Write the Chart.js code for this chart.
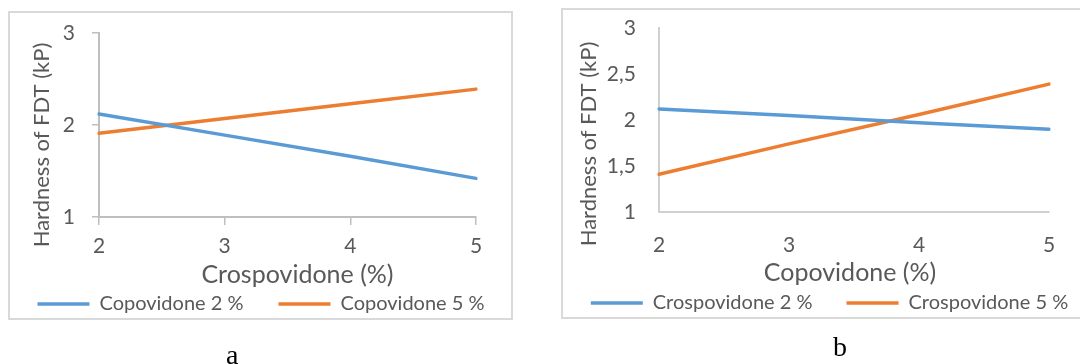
<!DOCTYPE html>
<html>
<head>
<meta charset="utf-8">
<script src="https://cdn.jsdelivr.net/npm/chart.js@4.4.1/dist/chart.umd.min.js"></script>
<style>
	html, body { margin: 0; padding: 0; background: #fff; }
	body { width: 1080px; height: 364px; position: relative; overflow: hidden; }
	.moldura { position: absolute; box-sizing: border-box; border: 2px solid #d9d9d9; }
	canvas { position: absolute; }
	.letra { position: absolute; font-family: "Liberation Serif", "DejaVu Serif", serif; font-size: 28px; color: #000; }
</style>
</head>
<body>
<div class="moldura" style="left:8px; top:11px; width:505px; height:309px"></div>
<div class="moldura" style="left:561px; top:8px; width:600px; height:311px"></div>
<canvas id="graficoA" width="522" height="360" style="left:0px; top:12px"></canvas>
<canvas id="graficoB" width="559" height="360" style="left:550px; top:9px"></canvas>
<div class="letra" style="left:226px; top:339px">a</div>
<div class="letra" style="left:833px; top:331px">b</div>
<script>
// valores
const porcentagens = ["2", "3", "4", "5"]

const aCopovidone2 = [2.12, 1.89, 1.66, 1.42]
const aCopovidone5 = [1.91, 2.07, 2.23, 2.39]

const bCrospovidone2 = [2.12, 2.05, 1.97, 1.90]
const bCrospovidone5 = [1.41, 1.74, 2.06, 2.39]

const AZUL = "#5b9bd5"
const LARANJA = "#ed7d31"
const TEXTO = "#595959"
const FONTE = "Lato"

Chart.defaults.font.family = FONTE
Chart.defaults.color = TEXTO

// titulos dos eixos desenhados na mao, o Excel nao centraliza eles
const titulosEixos = {
	id: "titulosEixos",
	afterDraw(chart, args, opts) {
		const ctx = chart.ctx
		const area = chart.chartArea
		ctx.save()
		ctx.fillStyle = TEXTO
		ctx.textAlign = "center"
		ctx.textBaseline = "middle"

		ctx.font = `${opts.tamY}px ${FONTE}`
		ctx.translate(area.left + opts.dxY, (area.top + area.bottom) / 2 + opts.dyY)
		ctx.rotate(-Math.PI / 2)
		ctx.fillText(opts.y, 0, 0)
		ctx.restore()

		ctx.save()
		ctx.fillStyle = TEXTO
		ctx.textAlign = "center"
		ctx.textBaseline = "middle"
		ctx.font = `${opts.tamX}px ${FONTE}`
		ctx.fillText(opts.x, (area.left + area.right) / 2 + opts.dxX, area.bottom + opts.dyX)
		ctx.restore()
	}
}

function serie(label, data, cor) {
	return {
		label: label,
		data: data,
		borderColor: cor,
		backgroundColor: cor,
		borderWidth: 3.5,
		borderCapStyle: "round",
		pointRadius: 0,
		tension: 0,
	}
}

function virgula(v) {
	return String(v).replace(".", ",")
}

function montaGrafico(id, cfg) {
	return new Chart(document.getElementById(id), {
		type: "line",
		data: {
			labels: porcentagens,
			datasets: [
				serie(cfg.nomes[0], cfg.dados[0], AZUL),
				serie(cfg.nomes[1], cfg.dados[1], LARANJA),
			],
		},
		options: {
			responsive: false,
			animation: false,
			devicePixelRatio: 1,
			layout: { padding: { top: cfg.topo, left: 0, right: 0, bottom: cfg.baixo } },
			plugins: {
				tooltip: { enabled: false },
				legend: {
					position: "bottom",
					labels: {
						usePointStyle: true,
						pointStyle: "line",
						pointStyleWidth: 52,
						padding: cfg.legPad,
						color: TEXTO,
						font: { size: 20 },
					},
				},
				titulosEixos: cfg.titulos,
			},
			scales: {
				x: {
					grid: {
						display: cfg.marcas,
						drawTicks: cfg.marcas,
						drawOnChartArea: false,
						tickLength: 8,
						color: "#bfbfbf",
						lineWidth: 1.5,
					},
					border: { color: cfg.corEixo, width: 2 },
					ticks: { font: { size: 21 }, padding: cfg.padX, maxRotation: 0 },
					afterFit(s) {
						s.height = cfg.altX
						s.paddingLeft = 0
						s.paddingRight = 0
					},
				},
				y: {
					min: 1,
					max: 3,
					grid: {
						display: cfg.marcas,
						drawTicks: cfg.marcas,
						drawOnChartArea: false,
						tickLength: 7,
						color: "#bfbfbf",
						lineWidth: 1.5,
					},
					border: { color: cfg.corEixo, width: 2 },
					ticks: { stepSize: cfg.passo, font: { size: 21 }, padding: cfg.padY, callback: virgula },
					afterFit(s) {
						s.width = cfg.largY
						// o padding dos ticks empurrava a area do grafico pra baixo
						s.paddingTop = 0
						s.paddingBottom = 0
					},
				},
				direita: {
					position: "right",
					grid: { display: false },
					border: { display: false },
					ticks: { display: false },
					afterFit(s) {
						s.width = cfg.largDireita
						s.paddingTop = 0
						s.paddingBottom = 0
					},
				},
			},
		},
		plugins: [titulosEixos],
	})
}

montaGrafico("graficoA", {
	nomes: ["Copovidone 2 %", "Copovidone 5 %"],
	dados: [aCopovidone2, aCopovidone5],
	passo: 1,
	marcas: true,
	corEixo: "#bfbfbf",
	topo: 21,
	baixo: 48,
	legPad: 35,
	altX: 42,
	largY: 99,
	largDireita: 46,
	padX: 9,
	padY: 17,
	titulos: { y: "Hardness of FDT (kP)", x: "Crospovidone (%)", tamY: 22, tamX: 25, dxY: -57, dyY: 20, dxX: 10, dyX: 58 },
})

montaGrafico("graficoB", {
	nomes: ["Crospovidone 2 %", "Crospovidone 5 %"],
	dados: [bCrospovidone2, bCrospovidone5],
	passo: 0.5,
	marcas: false,
	corEixo: "#d0d0d0",
	topo: 19,
	baixo: 46,
	legPad: 34,
	altX: 47,
	largY: 109,
	largDireita: 60,
	padX: 21,
	padY: 23,
	titulos: { y: "Hardness of FDT (kP)", x: "Copovidone (%)", tamY: 22, tamX: 25, dxY: -70, dyY: 24, dxX: -4, dyX: 61 },
})
</script>
</body>
</html>
